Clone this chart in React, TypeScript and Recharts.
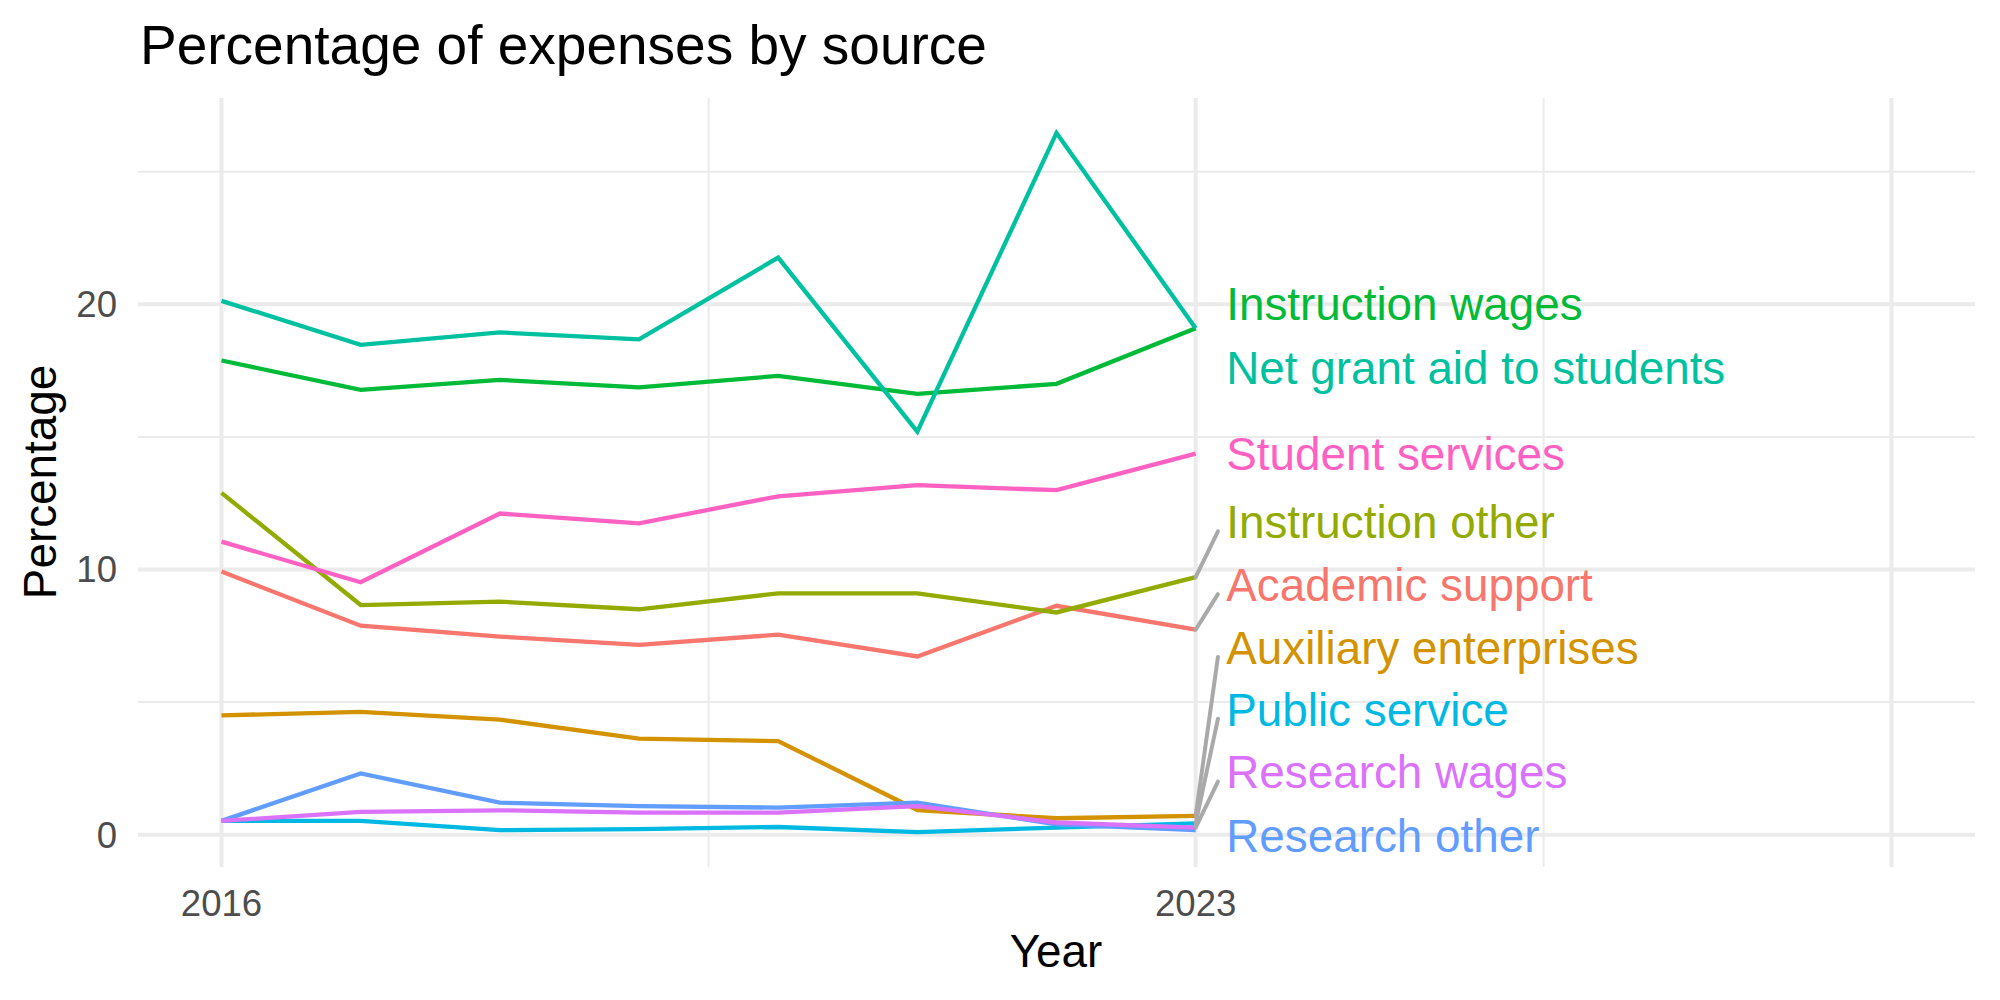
import React from "react";
import {
  ComposedChart,
  Line,
  XAxis,
  YAxis,
  CartesianGrid,
  ReferenceLine,
  ReferenceDot,
} from "recharts";

// Fiscal years covered
const YEARS = [2016, 2017, 2018, 2019, 2020, 2021, 2022, 2023];

// Share of total expenses (%) by source, one array per source
const academicSupport = [9.92, 7.88, 7.47, 7.16, 7.54, 6.72, 8.63, 7.73];
const auxiliaryEnterprises = [4.5, 4.63, 4.34, 3.62, 3.53, 0.93, 0.62, 0.71];
const instructionOther = [12.89, 8.66, 8.79, 8.5, 9.1, 9.1, 8.38, 9.71];
const instructionWages = [17.88, 16.77, 17.15, 16.87, 17.3, 16.62, 17.0, 19.1];
const netGrantAid = [20.13, 18.47, 18.94, 18.68, 21.76, 15.2, 26.46, 19.1];
const publicService = [0.52, 0.52, 0.17, 0.21, 0.29, 0.1, 0.27, 0.43];
const researchOther = [0.52, 2.31, 1.21, 1.08, 1.02, 1.21, 0.39, 0.17];
const researchWages = [0.52, 0.86, 0.92, 0.83, 0.83, 1.08, 0.46, 0.27];
const studentServices = [11.05, 9.52, 12.11, 11.74, 12.76, 13.18, 12.99, 14.37];

// Series names, colours (ggplot hue palette) and where each end label sits
const SERIES = [
  { name: "Academic support", values: academicSupport, color: "#F8766D", labelY: 9.42 },
  { name: "Auxiliary enterprises", values: auxiliaryEnterprises, color: "#D39200", labelY: 7.05 },
  { name: "Instruction other", values: instructionOther, color: "#93AA00", labelY: 11.79 },
  { name: "Instruction wages", values: instructionWages, color: "#00BA38", labelY: 20.0 },
  { name: "Net grant aid to students", values: netGrantAid, color: "#00C19F", labelY: 17.61 },
  { name: "Public service", values: publicService, color: "#00B9E3", labelY: 4.72 },
  { name: "Research other", values: researchOther, color: "#619CFF", labelY: -0.06 },
  { name: "Research wages", values: researchWages, color: "#DB72FB", labelY: 2.35 },
  { name: "Student services", values: studentServices, color: "#FF61C3", labelY: 14.34 },
];

const X_TICKS = [2016, 2023];
const X_LIMITS = [2016, 2028];
const X_MAJOR = [2016, 2023, 2028];
const X_MINOR = [2019.5, 2025.5];
const Y_TICKS = [0, 10, 20];
const Y_MINOR = [5, 15, 25];
const LABEL_X = 2023.22;

const FONT = "'Liberation Sans', Arial, Helvetica, sans-serif";

// Rows for the chart: one per year, one key per source
const rows = YEARS.map((year, i) => {
  const row: Record<string, number> = { year };
  SERIES.forEach((s) => {
    row[s.name] = s.values[i];
  });
  return row;
});

// ggplot-style 5% expansion of the limits
const expand = (lo: number, hi: number): [number, number] => {
  const pad = (hi - lo) * 0.05;
  return [lo - pad, hi + pad];
};
const allValues = SERIES.flatMap((s) => s.values);
const Y_DOMAIN = expand(Math.min(...allValues), Math.max(...allValues));
const X_DOMAIN = expand(X_LIMITS[0], X_LIMITS[1]);

const lastIndex = YEARS.length - 1;
const lastYear = YEARS[lastIndex];

export default function App() {
  return (
    <div
      style={{
        position: "absolute",
        left: 0,
        top: 0,
        width: 2000,
        height: 1000,
        background: "#ffffff",
        fontFamily: FONT,
      }}
    >
      <ComposedChart
        width={2000}
        height={1000}
        data={rows}
        margin={{ top: 98, right: 25, bottom: 0, left: 0 }}
      >
        <CartesianGrid
          stroke="#EBEBEB"
          strokeWidth={2}
          horizontalValues={Y_MINOR}
          verticalValues={X_MINOR}
        />
        <CartesianGrid
          stroke="#EBEBEB"
          strokeWidth={4}
          horizontalValues={Y_TICKS}
          verticalValues={X_MAJOR}
        />
        <XAxis
          dataKey="year"
          type="number"
          domain={X_DOMAIN}
          ticks={X_TICKS}
          height={133}
          axisLine={false}
          tickLine={false}
          tickSize={0}
          tickMargin={23}
          tick={{ fill: "#4D4D4D", fontSize: 36.6, fontFamily: FONT }}
          allowDataOverflow
        />
        <YAxis
          type="number"
          domain={Y_DOMAIN}
          ticks={Y_TICKS}
          width={138}
          axisLine={false}
          tickLine={false}
          tickSize={0}
          tickMargin={21}
          tick={{ fill: "#4D4D4D", fontSize: 36.6, fontFamily: FONT }}
          allowDataOverflow
        />
        {SERIES.map((s) => (
          <Line
            key={s.name}
            dataKey={s.name}
            stroke={s.color}
            strokeWidth={4.3}
            dot={false}
            activeDot={false}
            isAnimationActive={false}
          />
        ))}
        {SERIES.filter((s) => Math.abs(s.labelY - s.values[lastIndex]) > 1.6).map((s) => (
          <ReferenceLine
            key={"seg-" + s.name}
            segment={[
              { x: lastYear, y: s.values[lastIndex] },
              { x: LABEL_X - 0.06, y: s.labelY - 0.35 },
            ]}
            stroke="#A9A9A9"
            strokeWidth={4}
            strokeLinecap="round"
          />
        ))}
        {SERIES.map((s) => (
          <ReferenceDot
            key={"lab-" + s.name}
            x={LABEL_X}
            y={s.labelY}
            r={0}
            shape={(p: any) => (
              <text
                x={p.cx}
                y={p.cy}
                dy="0.35em"
                fill={s.color}
                fontSize={45.8}
                fontFamily={FONT}
                textAnchor="start"
              >
                {s.name}
              </text>
            )}
          />
        ))}
      </ComposedChart>
      <svg
        width={2000}
        height={1000}
        style={{ position: "absolute", left: 0, top: 0, pointerEvents: "none" }}
      >
        <text x={140} y={64} fontSize={55} fill="#000000" fontFamily={FONT}>
          Percentage of expenses by source
        </text>
        <text x={1056} y={967} fontSize={45.8} fill="#000000" fontFamily={FONT} textAnchor="middle">
          Year
        </text>
        <text
          x={56}
          y={482}
          fontSize={45.8}
          fill="#000000"
          fontFamily={FONT}
          textAnchor="middle"
          transform="rotate(-90 56 482)"
        >
          Percentage
        </text>
      </svg>
    </div>
  );
}
